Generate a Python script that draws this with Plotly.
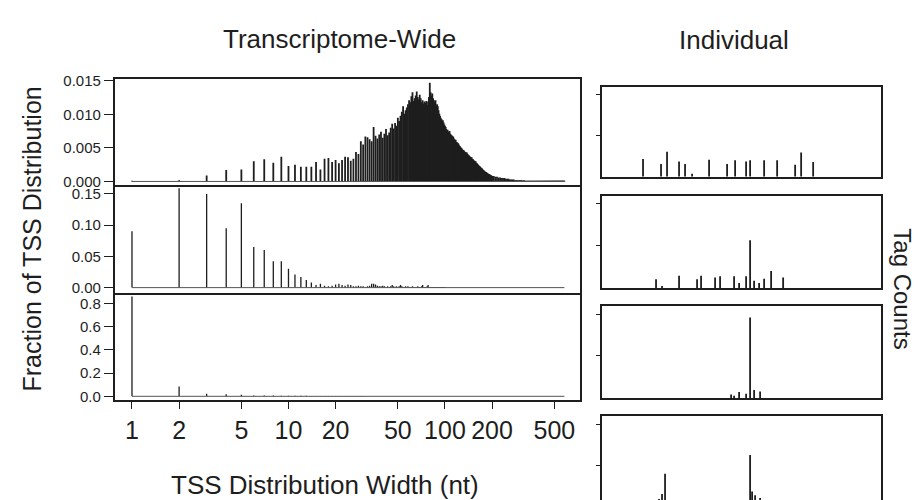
import plotly.graph_objects as go

# ---------------- data ----------------
# Transcriptome-wide: fraction of TSS distributions by width (nt)
top_widths = list(range(1, 201)) + list(range(205, 581, 5))
top_values = [
    0.0001, 0.0002, 0.0009, 0.0017, 0.0018, 0.0030, 0.0033, 0.0028, 0.0037, 0.0023,
    0.0025, 0.0022, 0.0022, 0.0022, 0.0029, 0.0018, 0.0034, 0.0035, 0.0029, 0.0032,
    0.0027, 0.0032, 0.0037, 0.0036, 0.0031, 0.0034, 0.0044, 0.0041, 0.0060, 0.0055,
    0.0067, 0.0066, 0.0063, 0.0060, 0.0081, 0.0068, 0.0064, 0.0070, 0.0074, 0.0065,
    0.0071, 0.0078, 0.0069, 0.0073, 0.0080, 0.0086, 0.0079, 0.0087, 0.0083, 0.0095,
    0.0090, 0.0098, 0.0104, 0.0112, 0.0101, 0.0106, 0.0110, 0.0115, 0.0121, 0.0118,
    0.0127, 0.0133, 0.0120, 0.0124, 0.0128, 0.0134, 0.0126, 0.0122, 0.0129, 0.0124,
    0.0118, 0.0121, 0.0116, 0.0119, 0.0117, 0.0120, 0.0114, 0.0119, 0.0126, 0.0147,
    0.0133, 0.0128, 0.0131, 0.0124, 0.0121, 0.0118, 0.0121, 0.0113, 0.0115, 0.0112,
    0.0106, 0.0101, 0.0098, 0.0095, 0.0093, 0.0089, 0.0091, 0.0088, 0.0085, 0.0083,
    0.0081, 0.0078, 0.0076, 0.0077, 0.0074, 0.0073, 0.0075, 0.0071, 0.0070, 0.0069,
    0.0068, 0.0066, 0.0067, 0.0064, 0.0063, 0.0061, 0.0062, 0.0059, 0.0058, 0.0058,
    0.0057, 0.0056, 0.0054, 0.0053, 0.0052, 0.0051, 0.0050, 0.0049, 0.0048, 0.0047,
    0.0047, 0.0046, 0.0045, 0.0044, 0.0044, 0.0043, 0.0042, 0.0043, 0.0041, 0.0040,
    0.0039, 0.0039, 0.0038, 0.0037, 0.0037, 0.0036, 0.0035, 0.0036, 0.0034, 0.0033,
    0.0033, 0.0032, 0.0031, 0.0031, 0.0030, 0.0029, 0.0030, 0.0028, 0.0027, 0.0027,
    0.0026, 0.0025, 0.0025, 0.0024, 0.0023, 0.0023, 0.0022, 0.0022, 0.0021, 0.0020,
    0.0020, 0.0019, 0.0019, 0.0018, 0.0017, 0.0017, 0.0016, 0.0016, 0.0015, 0.0015,
    0.0014, 0.0014, 0.0014, 0.0013, 0.0013, 0.0012, 0.0012, 0.0012, 0.0011, 0.0011,
    0.0011, 0.0010, 0.0010, 0.0010, 0.0009, 0.0009, 0.0009, 0.0009, 0.0008, 0.0008,
    # 205 .. 580 step 5
    0.0008, 0.0007, 0.0007, 0.0006, 0.0006, 0.0005, 0.0005, 0.0005, 0.0004, 0.0004,
    0.0004, 0.0003, 0.0003, 0.0003, 0.0003, 0.0002, 0.0002, 0.0002, 0.0002, 0.0002,
    0.0002, 0.0002, 0.0001, 0.0002, 0.0001, 0.0001, 0.0001, 0.0001, 0.0001, 0.0001,
    0.0001, 0.0001, 0.0001, 0.0001, 0.0001, 0.0001, 0.0001, 0.0001, 0.0001, 0.0001,
    0.0001, 0.0001, 0.0001, 0.0001, 0.0001, 0.0001, 0.0001, 0.0001, 0.0001, 0.0001,
    0.0001, 0.0001, 0.0001, 0.0001, 0.0001, 0.0001, 0.0001, 0.0001, 0.0001, 0.0001,
    0.0001, 0.0001, 0.0001, 0.0001, 0.0001, 0.0001, 0.0001, 0.0001, 0.0001, 0.0001,
    0.0001, 0.0001, 0.0001, 0.0001, 0.0001, 0.0001,
]

mid_widths = list(range(1, 101))
mid_values = [
    0.090, 0.159, 0.150, 0.095, 0.135, 0.065, 0.060, 0.042, 0.042, 0.030,
    0.021, 0.017, 0.012, 0.008, 0.004, 0.006, 0.003, 0.002, 0.003, 0.005,
    0.006, 0.004, 0.003, 0.005, 0.004, 0.002, 0.002, 0.003, 0.002, 0.002,
    0.001, 0.002, 0.003, 0.006, 0.006, 0.005, 0.003, 0.002, 0.002, 0.003,
    0.002, 0.001, 0.002, 0.001, 0.002, 0.004, 0.002, 0.001, 0.002, 0.001,
    0.002, 0.004, 0.002, 0.001, 0.001, 0.002, 0.001, 0.002, 0.001, 0.001,
    0.001, 0.002, 0.001, 0.001, 0.001, 0.001, 0.002, 0.001, 0.001, 0.001,
    0.002, 0.004, 0.001, 0.001, 0.001, 0.001, 0.002, 0.004, 0.001, 0.001,
    0.001, 0.001, 0.001, 0.001, 0.001, 0.001, 0.001, 0.001, 0.001, 0.001,
    0.001, 0.001, 0.001, 0.001, 0.001, 0.001, 0.001, 0.001, 0.001, 0.001,
]

bot_widths = list(range(1, 41))
bot_values = [
    0.862, 0.085, 0.022, 0.018, 0.013, 0.007, 0.006, 0.006, 0.005, 0.005,
    0.004, 0.004, 0.004, 0.003, 0.003, 0.003, 0.003, 0.003, 0.002, 0.002,
    0.002, 0.002, 0.002, 0.002, 0.002, 0.002, 0.002, 0.002, 0.002, 0.002,
    0.001, 0.001, 0.001, 0.001, 0.001, 0.001, 0.001, 0.001, 0.001, 0.001,
]

x_tick_vals = [1, 2, 5, 10, 20, 50, 100, 200, 500]
y_ticks_top = [0, 0.005, 0.010, 0.015]
y_text_top = ["0.000", "0.005", "0.010", "0.015"]
y_ticks_mid = [0, 0.05, 0.10, 0.15]
y_text_mid = ["0.00", "0.05", "0.10", "0.15"]
y_ticks_bot = [0, 0.2, 0.4, 0.6, 0.8]
y_text_bot = ["0.0", "0.2", "0.4", "0.6", "0.8"]

# Individual TSS clusters: position (nt, relative to peak) and tag counts
ind1_pos = [-107, -89, -83, -71, -65, -58, -41, -23, -15, -4, 0, 14, 27, 45, 51, 63]
ind1_cnt = [4.3, 3.1, 6.1, 3.7, 3.1, 0.7, 4.1, 3.1, 4.0, 3.7, 4.0, 4.0, 4.0, 2.9, 5.9, 3.6]
ind2_pos = [-94, -88, -71, -53, -49, -35, -30, -16, -11, -4, 0, 4, 9, 14, 21, 33]
ind2_cnt = [2.1, 0.5, 2.9, 2.1, 2.9, 2.5, 2.8, 2.8, 1.2, 2.8, 11.3, 1.7, 1.2, 2.2, 4.0, 2.5]
ind3_pos = [-19, -16, -11, -4, 0, 4, 10]
ind3_cnt = [0.8, 0.5, 1.4, 1.0, 19.2, 1.9, 1.5]
ind4_pos = [-91, -88, -85, -72, -31, -6, -2, 0, 2, 5, 10]
ind4_cnt = [1.8, 3.0, 8.0, 1.0, 1.0, 1.0, 1.5, 12.6, 3.6, 2.7, 2.0]
ind_ticks = [10, 20]

# ---------------- figure ----------------
W, H = 923, 500
INK = "#1e1e1e"
FONT = "Liberation Sans"


def stems(xs, ys):
    sx, sy = [], []
    for x, y in zip(xs, ys):
        sx += [x, x, None]
        sy += [0, y, None]
    return sx, sy


def xd(a, b):
    return [a / W, b / W]


def yd(top, bottom):
    return [max(0.0, 1 - bottom / H), 1 - top / H]


fig = go.Figure()

left_sets = [
    (top_widths, top_values, "x", "y", 1.8),
    (mid_widths, mid_values, "x2", "y2", 1.3),
    (bot_widths, bot_values, "x3", "y3", 1.3),
]
for ws, vs, xa, ya, lw in left_sets:
    sx, sy = stems(ws, vs)
    fig.add_trace(go.Scatter(x=sx, y=sy, mode="lines", xaxis=xa, yaxis=ya,
                             line=dict(color=INK, width=lw), hoverinfo="skip",
                             showlegend=False))
    # zero baseline spanning the observed width range
    fig.add_trace(go.Scatter(x=[top_widths[0], top_widths[-1]], y=[0, 0], mode="lines",
                             xaxis=xa, yaxis=ya, line=dict(color="#555", width=1),
                             hoverinfo="skip", showlegend=False))

right_sets = [
    (ind1_pos, ind1_cnt, "x4", "y4"),
    (ind2_pos, ind2_cnt, "x5", "y5"),
    (ind3_pos, ind3_cnt, "x6", "y6"),
    (ind4_pos, ind4_cnt, "x7", "y7"),
]
for ps, cs, xa, ya in right_sets:
    sx, sy = stems(ps, cs)
    fig.add_trace(go.Scatter(x=sx, y=sy, mode="lines", xaxis=xa, yaxis=ya,
                             line=dict(color=INK, width=1.8), hoverinfo="skip",
                             showlegend=False))

LX = xd(106.7, 571.7)
XLOG = [-0.1105, 2.861]
LINE = dict(showline=True, linecolor=INK, linewidth=1.6, showgrid=False, zeroline=False)
ytick_common = dict(ticks="outside", ticklen=9, tickwidth=1.3, tickcolor=INK,
                    tickfont=dict(family=FONT, size=15, color=INK))

layout = dict(
    width=W, height=H, margin=dict(l=0, r=0, t=0, b=0),
    paper_bgcolor="white", plot_bgcolor="white", showlegend=False,
    font=dict(family=FONT, color=INK),
    # top panel draws its top and bottom edges; lower panels only their bottom edges
    xaxis=dict(domain=LX, type="log", range=XLOG, anchor="y", ticks="",
               showticklabels=False, mirror=True, **LINE),
    xaxis2=dict(domain=LX, type="log", range=XLOG, anchor="y2", ticks="",
                showticklabels=False, mirror=False, **LINE),
    xaxis3=dict(domain=LX, type="log", range=XLOG, anchor="y3", ticks="outside",
                ticklen=7, tickwidth=1.3, tickcolor=INK, tickvals=x_tick_vals,
                ticktext=[str(v) for v in x_tick_vals], mirror=False,
                tickfont=dict(family=FONT, size=25, color=INK), **LINE),
    yaxis=dict(domain=yd(66, 174), range=[-0.0005, 0.0152], anchor="x", mirror=True,
               tickvals=y_ticks_top, ticktext=y_text_top, **ytick_common, **LINE),
    yaxis2=dict(domain=yd(174, 284.5), range=[-0.0081, 0.1645], anchor="x2", mirror=True,
                tickvals=y_ticks_mid, ticktext=y_text_mid, **ytick_common, **LINE),
    yaxis3=dict(domain=yd(284.5, 394.5), range=[-0.032, 0.894], anchor="x3", mirror=True,
                tickvals=y_ticks_bot, ticktext=y_text_bot, **ytick_common, **LINE),
)

RX = xd(593.5, 872.7)
XR = [-148.5, 130.5]
rdefs = [(73.5, 166, [-0.1, 22.0]), (185.5, 279.7, [0, 21.8]),
         (298.3, 392.3, [0, 21.9]), (410.7, 500, [0.8, 22.2])]
for i, (t, b, yr) in enumerate(rdefs):
    n = i + 4
    last = (i == 3)
    xa = dict(domain=RX, range=XR, anchor=f"y{n}", ticks="", showticklabels=False,
              mirror=not last, **LINE)
    if last:
        xa["side"] = "top"
    layout[f"xaxis{n}"] = xa
    layout[f"yaxis{n}"] = dict(domain=yd(t, b), range=yr, anchor=f"x{n}",
                               tickvals=ind_ticks, ticks="outside", ticklen=4,
                               tickwidth=1.3, tickcolor=INK, showticklabels=False,
                               mirror=True, **LINE)

layout["annotations"] = [
    dict(text="Transcriptome-Wide", x=331.7 / W, y=1 - 25 / H, xref="paper", yref="paper",
         showarrow=False, xanchor="center", yanchor="middle",
         font=dict(family=FONT, size=26, color=INK)),
    dict(text="Individual", x=725.5 / W, y=1 - 26 / H, xref="paper", yref="paper",
         showarrow=False, xanchor="center", yanchor="middle",
         font=dict(family=FONT, size=26, color=INK)),
    dict(text="Fraction of TSS Distribution", x=24 / W, y=1 - 230 / H, xref="paper",
         yref="paper", showarrow=False, textangle=-90, xanchor="center",
         yanchor="middle", font=dict(family=FONT, size=25, color=INK)),
    dict(text="TSS Distribution Width (nt)", x=317 / W, y=1 - 482 / H, xref="paper",
         yref="paper", showarrow=False, xanchor="center", yanchor="middle",
         font=dict(family=FONT, size=26, color=INK)),
    dict(text="Tag Counts", x=895 / W, y=1 - 280 / H, xref="paper", yref="paper",
         showarrow=False, textangle=90, xanchor="center", yanchor="middle",
         font=dict(family=FONT, size=24, color=INK)),
]

fig.update_layout(**layout)
fig.write_html("out.html")
